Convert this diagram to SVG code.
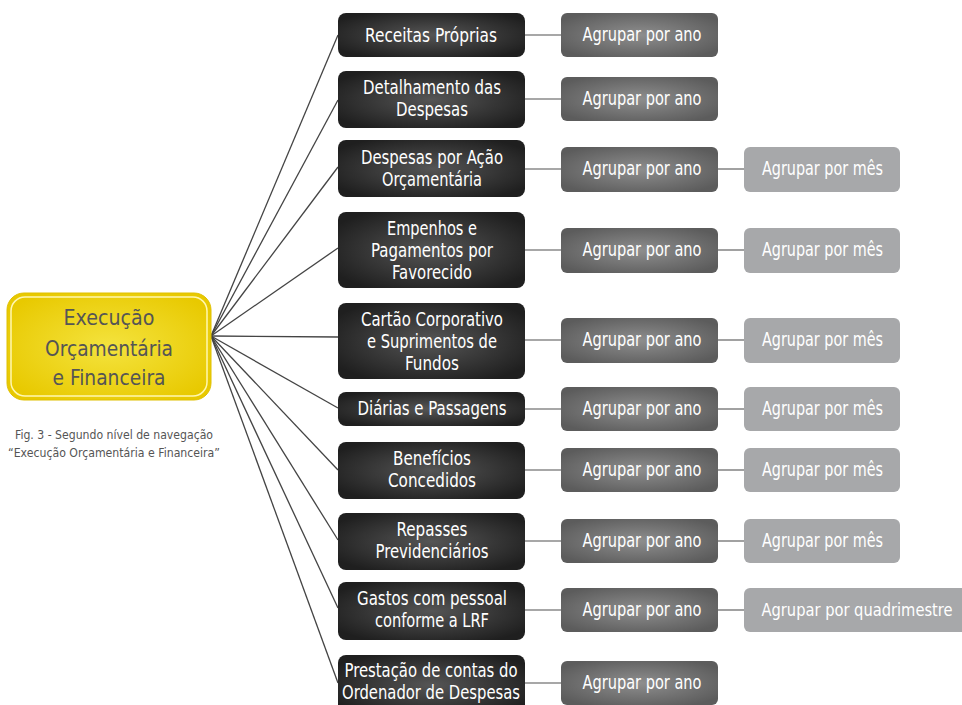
<svg xmlns="http://www.w3.org/2000/svg" width="962" height="705" viewBox="0 0 962 705">
<style>
.t{font-family:"DejaVu Sans Condensed","Liberation Sans Narrow","Liberation Sans",sans-serif;font-stretch:condensed;text-anchor:middle;}
.w{fill:#ffffff;font-size:19.5px;}
.y{fill:#555555;font-size:22px;}
.cap{fill:#555555;font-size:12px;}
.blk{fill:url(#gBlack);}
.dk{fill:url(#gDark);}
.lt{fill:#a7a8aa;}
.c1{stroke:#444;stroke-width:1.3;fill:none;}
.c2{stroke:#8a8a8a;stroke-width:1.6;fill:none;}
</style>
<defs>
<radialGradient id="gBlack" cx="50%" cy="50%" r="60%">
<stop offset="0" stop-color="#555555"/><stop offset="1" stop-color="#1f1f1f"/>
</radialGradient>
<radialGradient id="gDark" cx="50%" cy="50%" r="60%">
<stop offset="0" stop-color="#8e8e8e"/><stop offset="1" stop-color="#5c5c5c"/>
</radialGradient>
<radialGradient id="gYel" cx="50%" cy="50%" r="60%">
<stop offset="0" stop-color="#f4e33e"/><stop offset="1" stop-color="#e8c900"/>
</radialGradient>
</defs>
<rect width="962" height="705" fill="#ffffff"/>
<g id="connectors">
<line class="c1" x1="211" y1="336" x2="338" y2="35"/>
<line class="c1" x1="211" y1="336" x2="338" y2="100"/>
<line class="c1" x1="211" y1="336" x2="338" y2="167"/>
<line class="c1" x1="211" y1="336" x2="338" y2="248"/>
<line class="c1" x1="211" y1="336" x2="338" y2="337"/>
<line class="c1" x1="211" y1="336" x2="338" y2="408"/>
<line class="c1" x1="211" y1="336" x2="338" y2="470"/>
<line class="c1" x1="211" y1="336" x2="338" y2="540"/>
<line class="c1" x1="211" y1="336" x2="338" y2="608"/>
<line class="c1" x1="211" y1="336" x2="338" y2="683"/>
<line class="c2" x1="525" y1="35" x2="561" y2="35"/>
<line class="c2" x1="525" y1="99" x2="561" y2="99"/>
<line class="c2" x1="525" y1="169" x2="561" y2="169"/>
<line class="c2" x1="525" y1="250" x2="561" y2="250"/>
<line class="c2" x1="525" y1="340" x2="561" y2="340"/>
<line class="c2" x1="525" y1="409" x2="561" y2="409"/>
<line class="c2" x1="525" y1="470" x2="561" y2="470"/>
<line class="c2" x1="525" y1="541" x2="561" y2="541"/>
<line class="c2" x1="525" y1="610" x2="561" y2="610"/>
<line class="c2" x1="525" y1="683" x2="561" y2="683"/>
<line class="c2" x1="718" y1="169" x2="744" y2="169"/>
<line class="c2" x1="718" y1="250" x2="744" y2="250"/>
<line class="c2" x1="718" y1="340" x2="744" y2="340"/>
<line class="c2" x1="718" y1="409" x2="744" y2="409"/>
<line class="c2" x1="718" y1="470" x2="744" y2="470"/>
<line class="c2" x1="718" y1="541" x2="744" y2="541"/>
<line class="c2" x1="718" y1="610" x2="744" y2="610"/>
</g>
<g id="root">
<rect x="7" y="293" width="204" height="107" rx="17" fill="url(#gYel)" stroke="#e0c000" stroke-width="1"/>
<rect x="11" y="297" width="196" height="99" rx="14" fill="none" stroke="#fff7b0" stroke-width="1.5"/>
<text class="t y" x="109" y="325" textLength="91" lengthAdjust="spacingAndGlyphs">Execução</text>
<text class="t y" x="109" y="356" textLength="128" lengthAdjust="spacingAndGlyphs">Orçamentária</text>
<text class="t y" x="109" y="385" textLength="113" lengthAdjust="spacingAndGlyphs">e Financeira</text>
</g>
<g id="caption">
<text class="t cap" x="114" y="439" textLength="198" lengthAdjust="spacingAndGlyphs">Fig. 3 -  Segundo nível de navegação</text>
<text class="t cap" x="114" y="457" textLength="212" lengthAdjust="spacingAndGlyphs">“Execução Orçamentária e Financeira”</text>
</g>
<g id="n1"><rect class="blk" x="338" y="13" width="187" height="44" rx="8"/><text class="t w" x="431" y="42" textLength="132" lengthAdjust="spacingAndGlyphs">Receitas Próprias</text></g>
<g id="n2"><rect class="blk" x="338" y="71" width="187" height="57" rx="8"/><text class="t w" x="432" y="94" textLength="138" lengthAdjust="spacingAndGlyphs">Detalhamento das</text><text class="t w" x="432" y="116" textLength="72" lengthAdjust="spacingAndGlyphs">Despesas</text></g>
<g id="n3"><rect class="blk" x="338" y="140" width="187" height="57" rx="8"/><text class="t w" x="432" y="164" textLength="142" lengthAdjust="spacingAndGlyphs">Despesas por Ação</text><text class="t w" x="432" y="186" textLength="100" lengthAdjust="spacingAndGlyphs">Orçamentária</text></g>
<g id="n4"><rect class="blk" x="338" y="212" width="187" height="76" rx="8"/><text class="t w" x="432" y="235" textLength="90" lengthAdjust="spacingAndGlyphs">Empenhos e</text><text class="t w" x="432" y="257" textLength="122" lengthAdjust="spacingAndGlyphs">Pagamentos por</text><text class="t w" x="432" y="279" textLength="80" lengthAdjust="spacingAndGlyphs">Favorecido</text></g>
<g id="n5"><rect class="blk" x="338" y="303" width="187" height="76" rx="8"/><text class="t w" x="432" y="326" textLength="142" lengthAdjust="spacingAndGlyphs">Cartão Corporativo</text><text class="t w" x="432" y="348" textLength="130" lengthAdjust="spacingAndGlyphs">e Suprimentos de</text><text class="t w" x="432" y="370" textLength="54" lengthAdjust="spacingAndGlyphs">Fundos</text></g>
<g id="n6"><rect class="blk" x="338" y="392" width="187" height="34" rx="8"/><text class="t w" x="432" y="415" textLength="149" lengthAdjust="spacingAndGlyphs">Diárias e Passagens</text></g>
<g id="n7"><rect class="blk" x="338" y="442" width="187" height="57" rx="8"/><text class="t w" x="432" y="465" textLength="78" lengthAdjust="spacingAndGlyphs">Benefícios</text><text class="t w" x="432" y="487" textLength="88" lengthAdjust="spacingAndGlyphs">Concedidos</text></g>
<g id="n8"><rect class="blk" x="338" y="513" width="187" height="57" rx="8"/><text class="t w" x="432" y="536" textLength="71" lengthAdjust="spacingAndGlyphs">Repasses</text><text class="t w" x="432" y="558" textLength="113" lengthAdjust="spacingAndGlyphs">Previdenciários</text></g>
<g id="n9"><rect class="blk" x="338" y="582" width="187" height="58" rx="8"/><text class="t w" x="432" y="605" textLength="150" lengthAdjust="spacingAndGlyphs">Gastos com pessoal</text><text class="t w" x="432" y="627" textLength="114" lengthAdjust="spacingAndGlyphs">conforme a LRF</text></g>
<g id="n10"><rect class="blk" x="338" y="655" width="187" height="60" rx="8"/><text class="t w" x="431" y="677" textLength="173" lengthAdjust="spacingAndGlyphs">Prestação de contas do</text><text class="t w" x="431" y="699" textLength="178" lengthAdjust="spacingAndGlyphs">Ordenador de Despesas</text></g>
<g id="a1"><rect class="dk" x="561" y="13" width="157" height="44" rx="6"/><text class="t w" x="642" y="41" textLength="119" lengthAdjust="spacingAndGlyphs">Agrupar por ano</text></g>
<g id="a2"><rect class="dk" x="561" y="77" width="157" height="44" rx="6"/><text class="t w" x="642" y="105" textLength="119" lengthAdjust="spacingAndGlyphs">Agrupar por ano</text></g>
<g id="a3"><rect class="dk" x="561" y="147" width="157" height="45" rx="6"/><text class="t w" x="642" y="175" textLength="119" lengthAdjust="spacingAndGlyphs">Agrupar por ano</text></g>
<g id="a4"><rect class="dk" x="561" y="228" width="157" height="45" rx="6"/><text class="t w" x="642" y="256" textLength="119" lengthAdjust="spacingAndGlyphs">Agrupar por ano</text></g>
<g id="a5"><rect class="dk" x="561" y="318" width="157" height="45" rx="6"/><text class="t w" x="642" y="346" textLength="119" lengthAdjust="spacingAndGlyphs">Agrupar por ano</text></g>
<g id="a6"><rect class="dk" x="561" y="387" width="157" height="44" rx="6"/><text class="t w" x="642" y="415" textLength="119" lengthAdjust="spacingAndGlyphs">Agrupar por ano</text></g>
<g id="a7"><rect class="dk" x="561" y="448" width="157" height="44" rx="6"/><text class="t w" x="642" y="476" textLength="119" lengthAdjust="spacingAndGlyphs">Agrupar por ano</text></g>
<g id="a8"><rect class="dk" x="561" y="519" width="157" height="44" rx="6"/><text class="t w" x="642" y="547" textLength="119" lengthAdjust="spacingAndGlyphs">Agrupar por ano</text></g>
<g id="a9"><rect class="dk" x="561" y="588" width="157" height="44" rx="6"/><text class="t w" x="642" y="616" textLength="119" lengthAdjust="spacingAndGlyphs">Agrupar por ano</text></g>
<g id="a10"><rect class="dk" x="561" y="661" width="157" height="44" rx="6"/><text class="t w" x="642" y="689" textLength="119" lengthAdjust="spacingAndGlyphs">Agrupar por ano</text></g>
<g id="m3"><rect class="lt" x="744" y="147" width="156" height="45" rx="6"/><text class="t w" x="822.5" y="175" textLength="121" lengthAdjust="spacingAndGlyphs">Agrupar por mês</text></g>
<g id="m4"><rect class="lt" x="744" y="228" width="156" height="45" rx="6"/><text class="t w" x="822.5" y="256" textLength="121" lengthAdjust="spacingAndGlyphs">Agrupar por mês</text></g>
<g id="m5"><rect class="lt" x="744" y="318" width="156" height="45" rx="6"/><text class="t w" x="822.5" y="346" textLength="121" lengthAdjust="spacingAndGlyphs">Agrupar por mês</text></g>
<g id="m6"><rect class="lt" x="744" y="387" width="156" height="44" rx="6"/><text class="t w" x="822.5" y="415" textLength="121" lengthAdjust="spacingAndGlyphs">Agrupar por mês</text></g>
<g id="m7"><rect class="lt" x="744" y="448" width="156" height="44" rx="6"/><text class="t w" x="822.5" y="476" textLength="121" lengthAdjust="spacingAndGlyphs">Agrupar por mês</text></g>
<g id="m8"><rect class="lt" x="744" y="519" width="156" height="44" rx="6"/><text class="t w" x="822.5" y="547" textLength="121" lengthAdjust="spacingAndGlyphs">Agrupar por mês</text></g>
<g id="m9"><rect class="lt" x="744" y="588" width="224" height="44" rx="6"/><text class="t w" x="857" y="616" style="font-size:17.5px" textLength="191" lengthAdjust="spacingAndGlyphs">Agrupar por quadrimestre</text></g>
</svg>
